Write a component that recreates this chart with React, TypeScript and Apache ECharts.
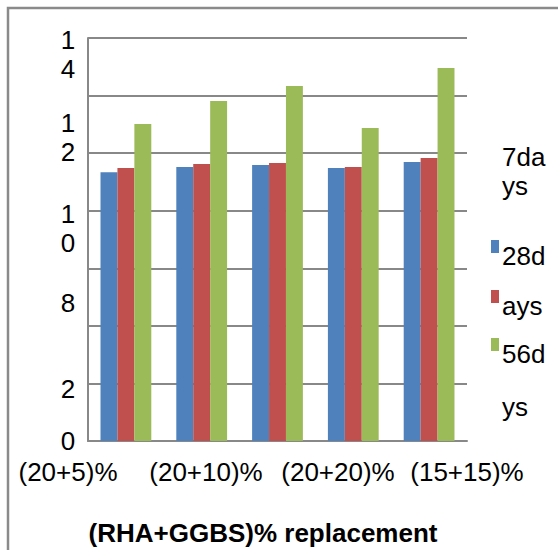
import React, { useEffect, useRef } from "react";
import * as echarts from "echarts";

const categories = ["(20+5)%", "(20+10)%", "(20+20)%", "(15+15)%", ""];
const seriesNames = ["7days", "28days", "56days"];
const days7 = [9.34, 9.52, 9.59, 9.48, 9.69];
const days28 = [9.48, 9.62, 9.66, 9.52, 9.83];
const days56 = [11.01, 11.81, 12.33, 10.87, 12.96];
const yTickLabels = ["1\n4", "1\n2", "1\n0", "8", "2", "0"];
const legendTexts = ["7da\nys", "28d", "ays", "56d", "ys"];
const colors = ["#4F81BD", "#C0504D", "#9BBB59"];
const axisTitle = "(RHA+GGBS)% replacement";

const FONT = "'Liberation Sans', Arial, sans-serif";

export default function App() {
  const ref = useRef<HTMLDivElement>(null);
  useEffect(() => {
    if (!ref.current) return;
    const chart = echarts.init(ref.current, undefined, { renderer: "svg" });
    const yPos = [25, 108, 199, 288, 374, 426];
    const xPos = [68, 206, 338, 467];
    const graphics: any[] = [
      {
        type: "rect",
        shape: { x: 8, y: 8, width: 600, height: 600 },
        style: { fill: "none", stroke: "#8a8a8a", lineWidth: 2.5 },
        silent: true,
      },
    ];
    yTickLabels.forEach((t, i) => {
      graphics.push({
        type: "text",
        x: 68,
        y: yPos[i],
        style: {
          text: t,
          font: `26px ${FONT}`,
          fill: "#000",
          align: "center",
          verticalAlign: "top",
          lineHeight: 29,
        },
      });
    });
    categories.slice(0, 4).forEach((c, i) => {
      graphics.push({
        type: "text",
        x: xPos[i],
        y: 472,
        style: {
          text: c,
          font: `26px ${FONT}`,
          fill: "#000",
          align: "center",
          verticalAlign: "middle",
        },
      });
    });
    graphics.push({
      type: "text",
      x: 263,
      y: 533,
      style: {
        text: axisTitle,
        font: `bold 26px ${FONT}`,
        fill: "#000",
        align: "center",
        verticalAlign: "middle",
      },
    });
    // legend
    const legY = [142, 241, 291, 339, 392];
    legendTexts.forEach((t, i) => {
      graphics.push({
        type: "text",
        x: 502,
        y: legY[i],
        style: {
          text: t,
          font: `26px ${FONT}`,
          fill: "#000",
          align: "left",
          verticalAlign: "top",
          lineHeight: 29,
        },
      });
    });
    [240, 290, 338].forEach((y, i) => {
      graphics.push({
        type: "rect",
        shape: { x: 491, y, width: 8, height: 13 },
        style: { fill: colors[i] },
      });
    });

    const data = [days7, days28, days56];
    chart.setOption({
      animation: false,
      grid: { left: 88, right: 91, top: 38, bottom: 109, containLabel: false },
      xAxis: {
        type: "category",
        data: categories,
        axisLine: { show: true, lineStyle: { color: "#888888", width: 2 } },
        axisTick: { show: false },
        axisLabel: { show: false },
      },
      yAxis: {
        type: "value",
        min: 0,
        max: 14,
        interval: 2,
        axisLine: { show: true, lineStyle: { color: "#888888", width: 2 } },
        axisTick: { show: false },
        axisLabel: { show: false },
        splitLine: { show: true, lineStyle: { color: "#888888", width: 2 } },
      },
      series: seriesNames.map((n, i) => ({
        name: n,
        type: "bar",
        data: data[i],
        barGap: "0%",
        barCategoryGap: "33%",
        itemStyle: { color: colors[i] },
      })),
      graphic: graphics,
    });
    return () => chart.dispose();
  }, []);
  return (
    <div
      ref={ref}
      style={{ position: "fixed", left: 0, top: 0, width: 558, height: 550, background: "#fff" }}
    />
  );
}
